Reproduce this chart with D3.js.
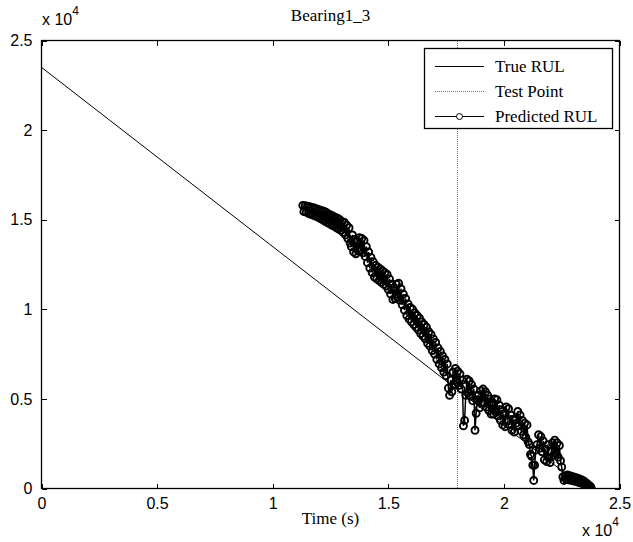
<!DOCTYPE html>
<html>
<head>
<meta charset="utf-8">
<script src="https://cdn.jsdelivr.net/npm/d3@7"></script>
<style>
  body { margin: 0; background: #fff; }
  text { fill: #000; }
</style>
</head>
<body>
<div id="chart"></div>
<script>
// ---- data ----
const chartTitle = "Bearing1_3";
const xLabel = "Time (s)";
const xTicks = [0, 5000, 10000, 15000, 20000, 25000];
const yTicks = [0, 5000, 10000, 15000, 20000, 25000];
const tickText = ["0", "0.5", "1", "1.5", "2", "2.5"];
const legendNames = ["True RUL", "Test Point", "Predicted RUL"];

const trueTime = [0, 23500];
const trueRUL = [23500, 0];
const testPoint = 18010;

// [time, predicted RUL]
const predicted = [
  [11300,15800],[11350,15450],[11400,15780],[11450,15420],[11500,15750],[11550,15350],
  [11600,15720],[11650,15300],[11700,15680],[11750,15250],[11800,15650],[11850,15200],
  [11900,15600],[11950,15150],[12000,15560],[12050,15080],[12100,15520],[12150,15000],
  [12200,15480],[12250,14920],[12300,15420],[12350,14850],[12400,15330],[12450,14780],
  [12500,15270],[12550,14700],[12600,15210],[12650,14640],[12700,15140],[12750,14560],
  [12800,15080],[12850,14480],[12900,15000],[12950,14400],[13000,14900],[13050,14300],
  [13100,14850],[13150,14150],[13200,14700],[13250,13950],[13300,14550],[13350,13700],
  [13400,13500],[13450,14150],[13500,13200],[13550,13900],[13600,13100],[13650,13800],
  [13700,13250],[13750,14000],[13800,13300],[13850,13950],[13900,13150],[13950,13850],
  [14000,12950],[14050,13500],[14100,12600],[14150,13200],[14200,12300],[14250,12900],
  [14300,12050],[14350,12650],[14400,11800],[14450,12450],[14500,11700],[14550,12350],
  [14600,11600],[14650,12250],[14700,11500],[14750,12150],[14800,11400],[14850,12050],
  [14900,11300],[14950,11950],[15000,11100],[15050,11700],[15100,10850],[15150,11400],
  [15200,10550],[15250,11200],[15300,10600],[15350,11400],[15400,10650],[15450,11450],
  [15500,10500],[15550,11150],[15600,10250],[15650,10850],[15700,9950],[15750,10600],
  [15800,9650],[15850,10300],[15900,9450],[15950,10100],[16000,9300],[16050,10000],
  [16100,9150],[16150,9800],[16200,9000],[16250,9650],[16300,8850],[16350,9500],
  [16400,8650],[16450,9300],[16500,8500],[16550,9150],[16600,8350],[16650,9000],
  [16700,8100],[16750,8750],[16800,7950],[16850,8600],[16900,7700],[16950,8350],
  [17000,7500],[17050,8150],[17100,7200],[17150,7850],[17200,6950],[17250,7650],
  [17300,6750],[17350,7400],[17400,6500],[17450,7200],[17500,6300],[17550,6950],
  [17600,5600],[17650,5200],[17700,6050],[17750,5400],[17800,6500],[17850,5800],
  [17900,6700],[17950,5950],[18000,6550],[18050,5750],[18100,6400],[18150,5550],
  [18200,6050],[18250,3500],[18300,3800],[18350,5200],[18400,6100],[18450,5350],
  [18500,6000],[18550,5150],[18600,5800],[18650,4900],[18700,5550],[18750,3250],
  [18800,4200],[18850,4950],[18900,5200],[18950,4500],[19000,5450],[19050,4750],
  [19100,5550],[19150,4750],[19200,5400],[19250,4550],[19300,5200],[19350,4350],
  [19400,5000],[19450,4150],[19500,4800],[19550,4150],[19600,5000],[19650,4250],
  [19700,4950],[19750,4050],[19800,4650],[19850,3800],[19900,4400],[19950,3550],
  [20000,4150],[20050,3450],[20100,4550],[20150,3800],[20200,4450],[20250,3550],
  [20300,4100],[20350,3250],[20400,3850],[20450,3150],[20500,3850],[20550,3650],
  [20600,4300],[20650,3500],[20700,4100],[20750,3200],[20800,3800],[20850,3000],
  [20900,3650],[20950,2850],[21000,3550],[21050,2600],[21100,2450],[21150,1900],
  [21200,1800],[21250,1300],[21290,450],[21330,1300],[21380,2150],[21430,2450],
  [21500,3000],[21550,2250],[21600,2900],[21650,2050],[21700,2650],[21750,1600],
  [21800,2200],[21850,1500],[21900,2450],[21950,1700],[22000,1450],[22050,2050],
  [22100,2550],[22150,1850],[22200,2700],[22250,1950],[22300,2550],[22350,1750],
  [22400,2400],[22450,1550],[22500,1200],[22550,650],[22600,450],[22650,720],
  [22700,500],[22750,750],[22800,480],[22850,710],[22900,460],[22950,670],
  [23000,420],[23050,630],[23100,400],[23150,590],[23200,360],[23250,540],
  [23300,320],[23350,490],[23400,270],[23450,420],[23500,200],[23550,320],
  [23600,120],[23650,220],[23700,60],[23750,110],[23780,20]
];

// ---- layout ----
const W = 633, H = 542;
const plot = { left: 41.5, right: 619.5, top: 40.5, bottom: 488.5 };
const sans = "'Liberation Sans', Arial, sans-serif";
const serif = "'Liberation Serif', 'Times New Roman', serif";

const svg = d3.select("#chart").append("svg")
    .attr("width", W)
    .attr("height", H)
    .style("display", "block");

const x = d3.scaleLinear().domain([0, 25000]).range([plot.left, plot.right]);
const y = d3.scaleLinear().domain([0, 25000]).range([plot.bottom, plot.top]);

// axes, MATLAB style: inward ticks on all four sides
function styleAxis(g) {
    g.select(".domain").remove();
    g.selectAll(".tick line").attr("stroke", "#000").attr("shape-rendering", "crispEdges");
    g.selectAll(".tick text").attr("font-family", sans).attr("font-size", 16).attr("fill", "#000");
}

svg.append("g")
    .attr("transform", "translate(0," + plot.bottom + ")")
    .call(d3.axisBottom(x).tickValues(xTicks).tickSize(-5).tickPadding(9)
        .tickFormat((d, i) => tickText[i]))
    .call(styleAxis);

svg.append("g")
    .attr("transform", "translate(0," + plot.top + ")")
    .call(d3.axisTop(x).tickValues(xTicks).tickSize(-5).tickFormat(""))
    .call(styleAxis);

svg.append("g")
    .attr("transform", "translate(" + plot.left + ",0)")
    .call(d3.axisLeft(y).tickValues(yTicks).tickSize(-5).tickPadding(9)
        .tickFormat((d, i) => tickText[i]))
    .call(styleAxis);

svg.append("g")
    .attr("transform", "translate(" + plot.right + ",0)")
    .call(d3.axisRight(y).tickValues(yTicks).tickSize(-5).tickFormat(""))
    .call(styleAxis);

// clip for the data
svg.append("clipPath").attr("id", "clip")
  .append("rect")
    .attr("x", plot.left).attr("y", plot.top)
    .attr("width", plot.right - plot.left).attr("height", plot.bottom - plot.top);

const data = svg.append("g").attr("clip-path", "url(#clip)");

// true RUL
const line = d3.line().x(d => x(d[0])).y(d => y(d[1]));
data.append("path")
    .datum(d3.zip(trueTime, trueRUL))
    .attr("d", line)
    .attr("fill", "none")
    .attr("stroke", "#000")
    .attr("stroke-width", 1);

// test point
data.append("line")
    .attr("x1", x(testPoint)).attr("x2", x(testPoint))
    .attr("y1", plot.top).attr("y2", plot.bottom)
    .attr("stroke", "#777")
    .attr("stroke-width", 1)
    .attr("stroke-dasharray", "1,1")
    .attr("shape-rendering", "crispEdges");

// predicted RUL: dense circles, like the MATLAB export
data.append("path")
    .datum(predicted)
    .attr("d", line)
    .attr("fill", "none")
    .attr("stroke", "#000")
    .attr("stroke-width", 1.5);

data.selectAll(".pt")
    .data(predicted)
    .enter().append("circle")
    .attr("class", "pt")
    .attr("cx", d => x(d[0]))
    .attr("cy", d => y(d[1]))
    .attr("r", 3.5)
    .attr("fill", "none")
    .attr("stroke", "#000")
    .attr("stroke-width", 1.9);

// axes box
svg.append("rect")
    .attr("x", plot.left).attr("y", plot.top)
    .attr("width", plot.right - plot.left).attr("height", plot.bottom - plot.top)
    .attr("fill", "none")
    .attr("stroke", "#000")
    .attr("stroke-width", 1.3);

// title and labels
svg.append("text")
    .attr("x", (plot.left + plot.right) / 2).attr("y", 21)
    .attr("text-anchor", "middle")
    .attr("font-family", serif).attr("font-size", 17)
    .text(chartTitle);

svg.append("text")
    .attr("x", (plot.left + plot.right) / 2).attr("y", 524)
    .attr("text-anchor", "middle")
    .attr("font-family", serif).attr("font-size", 17)
    .text(xLabel);

function exponent(px, py) {
    const t = svg.append("text")
        .attr("x", px).attr("y", py)
        .attr("font-family", sans).attr("font-size", 16);
    t.append("tspan").text("x 10");
    t.append("tspan").attr("dy", -10).attr("font-size", 12).text("4");
}
exponent(42, 25);
exponent(582, 536);

// legend
const lg = svg.append("g");
const lgBox = { x: 424.5, y: 48.5, w: 188, h: 80 };
lg.append("rect")
    .attr("x", lgBox.x).attr("y", lgBox.y)
    .attr("width", lgBox.w).attr("height", lgBox.h)
    .attr("fill", "#fff")
    .attr("stroke", "#000")
    .attr("stroke-width", 1.3);

const rowY = [66, 91, 116];
legendNames.forEach((name, i) => {
    const row = lg.append("g").attr("transform", "translate(0," + rowY[i] + ")");
    const l = row.append("line")
        .attr("x1", 435).attr("x2", 484)
        .attr("y1", 0.5).attr("y2", 0.5)
        .attr("stroke", i === 1 ? "#777" : "#000")
        .attr("stroke-width", 1);
    if (i === 1) l.attr("stroke-dasharray", "1,1");
    if (i === 2) {
        row.append("circle")
            .attr("cx", 459.5).attr("cy", 0.5).attr("r", 3)
            .attr("fill", "#fff").attr("stroke", "#000");
    }
    row.append("text")
        .attr("x", 495).attr("y", 6)
        .attr("font-family", serif).attr("font-size", 17)
        .text(name);
});
</script>
</body>
</html>
